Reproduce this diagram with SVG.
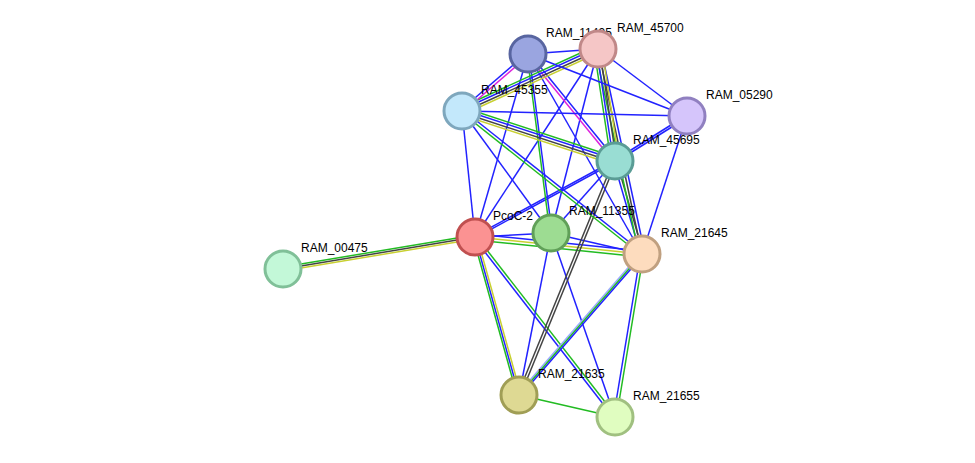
<svg xmlns="http://www.w3.org/2000/svg" width="975" height="463" viewBox="0 0 975 463">
<style>
.n{stroke-width:3}
text{font-family:"Liberation Sans",Arial,sans-serif;font-size:12px;fill:#000}
line{stroke-width:1.5}
.b{stroke:#2222ff}.g{stroke:#22bb22}.k{stroke:#444}.y{stroke:#c8d030}.m{stroke:#dd22dd}.l{stroke:#99aaff}
</style>
<rect width="975" height="463" fill="#fff"/>
<g id="connectors">
<g transform="translate(0,-2)"><line class="g" x1="283" y1="269" x2="475" y2="237"/></g>
<line class="k" x1="283" y1="269" x2="475" y2="237"/>
<g transform="translate(0,2)"><line class="y" x1="283" y1="269" x2="475" y2="237"/></g>
<line class="b" x1="475" y1="237" x2="551" y2="233"/>
<g transform="translate(0,-3)"><line class="b" x1="475" y1="237" x2="642" y2="254"/></g>
<line class="y" x1="475" y1="237" x2="642" y2="254"/>
<g transform="translate(0,3)"><line class="g" x1="475" y1="237" x2="642" y2="254"/></g>
<g transform="translate(-2,0)"><line class="g" x1="475" y1="237" x2="519" y2="395"/></g>
<line class="b" x1="475" y1="237" x2="519" y2="395"/>
<g transform="translate(2,0)"><line class="y" x1="475" y1="237" x2="519" y2="395"/></g>
<g transform="translate(-1,1)"><line class="b" x1="475" y1="237" x2="615" y2="417"/></g>
<g transform="translate(1,-1)"><line class="g" x1="475" y1="237" x2="615" y2="417"/></g>
<g transform="translate(0,-1)"><line class="b" x1="475" y1="237" x2="615" y2="161"/></g>
<g transform="translate(0,1)"><line class="b" x1="475" y1="237" x2="615" y2="161"/></g>
<line class="b" x1="475" y1="237" x2="598" y2="49"/>
<line class="b" x1="475" y1="237" x2="528" y2="54"/>
<line class="b" x1="475" y1="237" x2="462" y2="111"/>
<line class="b" x1="551" y1="233" x2="642" y2="254"/>
<line class="b" x1="551" y1="233" x2="519" y2="395"/>
<line class="b" x1="551" y1="233" x2="615" y2="417"/>
<line class="b" x1="551" y1="233" x2="615" y2="161"/>
<line class="b" x1="551" y1="233" x2="598" y2="49"/>
<g transform="translate(-1,0)"><line class="g" x1="551" y1="233" x2="528" y2="54"/></g>
<g transform="translate(1,0)"><line class="b" x1="551" y1="233" x2="528" y2="54"/></g>
<line class="b" x1="551" y1="233" x2="462" y2="111"/>
<g transform="translate(-1.5,0)"><line class="k" x1="519" y1="395" x2="615" y2="161"/></g>
<g transform="translate(1.5,0)"><line class="k" x1="519" y1="395" x2="615" y2="161"/></g>
<g transform="translate(-2,0)"><line class="l" x1="519" y1="395" x2="642" y2="254"/></g>
<line class="g" x1="519" y1="395" x2="642" y2="254"/>
<g transform="translate(2,0)"><line class="b" x1="519" y1="395" x2="642" y2="254"/></g>
<line class="g" x1="519" y1="395" x2="615" y2="417"/>
<g transform="translate(-1.5,0)"><line class="b" x1="642" y1="254" x2="615" y2="417"/></g>
<g transform="translate(1.5,0)"><line class="g" x1="642" y1="254" x2="615" y2="417"/></g>
<g transform="translate(-1.5,0)"><line class="b" x1="642" y1="254" x2="615" y2="161"/></g>
<g transform="translate(1.5,0)"><line class="k" x1="642" y1="254" x2="615" y2="161"/></g>
<g transform="translate(-3,0)"><line class="g" x1="642" y1="254" x2="598" y2="49"/></g>
<line class="k" x1="642" y1="254" x2="598" y2="49"/>
<g transform="translate(3,0)"><line class="b" x1="642" y1="254" x2="598" y2="49"/></g>
<line class="b" x1="642" y1="254" x2="528" y2="54"/>
<g transform="translate(1,-1)"><line class="b" x1="642" y1="254" x2="462" y2="111"/></g>
<g transform="translate(-1,1)"><line class="g" x1="642" y1="254" x2="462" y2="111"/></g>
<line class="b" x1="642" y1="254" x2="687" y2="116"/>
<g transform="translate(0,-4)"><line class="g" x1="462" y1="111" x2="615" y2="161"/></g>
<g transform="translate(0,-1.5)"><line class="b" x1="462" y1="111" x2="615" y2="161"/></g>
<g transform="translate(0,1.5)"><line class="k" x1="462" y1="111" x2="615" y2="161"/></g>
<g transform="translate(0,4)"><line class="y" x1="462" y1="111" x2="615" y2="161"/></g>
<g transform="translate(-4,0)"><line class="g" x1="615" y1="161" x2="598" y2="49"/></g>
<g transform="translate(-1.5,0)"><line class="b" x1="615" y1="161" x2="598" y2="49"/></g>
<g transform="translate(1.5,0)"><line class="k" x1="615" y1="161" x2="598" y2="49"/></g>
<g transform="translate(4,0)"><line class="y" x1="615" y1="161" x2="598" y2="49"/></g>
<g transform="translate(-1,1)"><line class="m" x1="615" y1="161" x2="528" y2="54"/></g>
<g transform="translate(1,-1)"><line class="b" x1="615" y1="161" x2="528" y2="54"/></g>
<g transform="translate(0,-1)"><line class="b" x1="615" y1="161" x2="687" y2="116"/></g>
<g transform="translate(0,1.5)"><line class="b" x1="615" y1="161" x2="687" y2="116"/></g>
<g transform="translate(0,-4)"><line class="g" x1="462" y1="111" x2="598" y2="49"/></g>
<g transform="translate(0,-1.5)"><line class="b" x1="462" y1="111" x2="598" y2="49"/></g>
<g transform="translate(0,1.5)"><line class="k" x1="462" y1="111" x2="598" y2="49"/></g>
<g transform="translate(0,4)"><line class="y" x1="462" y1="111" x2="598" y2="49"/></g>
<g transform="translate(-1,-1)"><line class="b" x1="462" y1="111" x2="528" y2="54"/></g>
<g transform="translate(1,1)"><line class="m" x1="462" y1="111" x2="528" y2="54"/></g>
<line class="b" x1="462" y1="111" x2="687" y2="116"/>
<line class="b" x1="528" y1="54" x2="687" y2="116"/>
<line class="b" x1="598" y1="49" x2="687" y2="116"/>
<line class="b" x1="528" y1="54" x2="598" y2="49"/>
</g>
<g id="RAM_00475"><circle class="n" cx="283" cy="269" r="18" fill="#c3f8d8" stroke="#80c098"/><text x="301" y="252">RAM_00475</text></g>
<g id="PcoC-2"><circle class="n" cx="475" cy="237" r="18" fill="#fb9292" stroke="#c05050"/><text x="493" y="220">PcoC-2</text></g>
<g id="RAM_11355"><circle class="n" cx="551" cy="233" r="18" fill="#9ddc92" stroke="#60a058"/><text x="569" y="215">RAM_11355</text></g>
<g id="RAM_21645"><circle class="n" cx="642" cy="254" r="18" fill="#fddcbe" stroke="#c0a080"/><text x="661" y="237">RAM_21645</text></g>
<g id="RAM_21635"><circle class="n" cx="519" cy="395" r="18" fill="#ded993" stroke="#a09e55"/><text x="538" y="378">RAM_21635</text></g>
<g id="RAM_21655"><circle class="n" cx="615" cy="417" r="18" fill="#e0fdc0" stroke="#a0c080"/><text x="633" y="400">RAM_21655</text></g>
<g id="RAM_45695"><circle class="n" cx="615" cy="161" r="18" fill="#99ddd3" stroke="#5a9c95"/><text x="633" y="144">RAM_45695</text></g>
<g id="RAM_05290"><circle class="n" cx="687" cy="116" r="18" fill="#d5c5fb" stroke="#9080c0"/><text x="706" y="99">RAM_05290</text></g>
<g id="RAM_45355"><circle class="n" cx="462" cy="111" r="18" fill="#c3e8fb" stroke="#7ea7bd"/><text x="481" y="94">RAM_45355</text></g>
<g id="RAM_11495"><circle class="n" cx="528" cy="54" r="18" fill="#9aa5e0" stroke="#5865a0"/><text x="546" y="37">RAM_11495</text></g>
<g id="RAM_45700"><circle class="n" cx="598" cy="49" r="18" fill="#f5c6c6" stroke="#c08888"/><text x="617" y="32">RAM_45700</text></g>
</svg>
